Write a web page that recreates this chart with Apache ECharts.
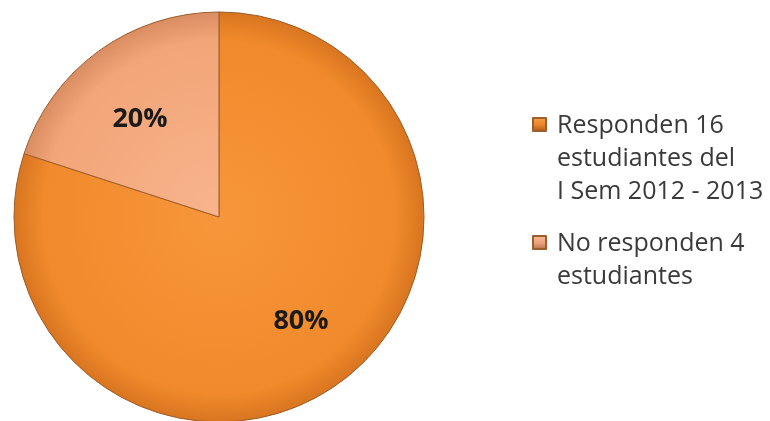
<!DOCTYPE html>
<html>
<head>
<meta charset="utf-8">
<style>
  html, body { margin: 0; padding: 0; background: #ffffff; }
  #chart { width: 770px; height: 421px; }
</style>
<script src="https://cdn.jsdelivr.net/npm/echarts@6/dist/echarts.min.js"></script>
</head>
<body>
<div id="chart"></div>
<script>
// Survey response split
const categories = [
  'Responden 16\nestudiantes del\nI Sem 2012 - 2013',
  'No responden 4\nestudiantes'
];
const counts = [16, 4];

const CX = 219, CY = 217, R = 205;
const LINE = 33;   // legend line height
const SQ = 13;     // legend square size
const SQ_TOP = 9;  // square offset inside the first text line

function shade(inner, mid, edge) {
  return new echarts.graphic.RadialGradient(CX, CY, R, [
    { offset: 0, color: inner },
    { offset: 0.86, color: mid },
    { offset: 1, color: edge }
  ], true);
}

const sliceFills = [
  shade('#F7963A', '#F08A2C', '#D8751F'),
  shade('#F8B48C', '#F2A578', '#D98D62')
];
const iconTones = [
  ['#F7A24C', '#E8842A', '#B5601B'],
  ['#F8BE9A', '#EBA07A', '#BE7852']
];

// Legend marker: a square sitting beside the first text line of a
// multi-line entry (the path box spans the whole text block height).
function markerPath(lines) {
  const h = lines * LINE;
  return 'path://M0,0 M0,' + SQ_TOP + ' h' + SQ + ' v' + SQ + ' h-' + SQ + ' Z M' + SQ + ',' + h;
}
function markerFill(lines, tones) {
  const h = lines * LINE;
  const a = SQ_TOP / h, b = (SQ_TOP + SQ) / h;
  return new echarts.graphic.LinearGradient(0, 0, 0, 1, [
    { offset: a, color: tones[0] },
    { offset: a + (b - a) * 0.6, color: tones[1] },
    { offset: b, color: tones[2] }
  ]);
}

// offset of each percentage label from its half-radius anchor
const labelShift = [[20, 19], [-17, -12]];

const maxLines = Math.max(...categories.map(n => n.split('\n').length));

const chart = echarts.init(document.getElementById('chart'), null, { renderer: 'canvas' });

chart.setOption({
  animation: false,
  backgroundColor: '#ffffff',
  legend: {
    orient: 'vertical',
    left: 527,
    top: 103,
    itemWidth: SQ,
    itemHeight: maxLines * LINE,
    itemGap: 17,
    selectedMode: false,
    data: categories.map((name, i) => {
      const lines = name.split('\n').length;
      return {
        name: name,
        icon: markerPath(lines),
        itemStyle: { color: markerFill(lines, iconTones[i]) }
      };
    }),
    textStyle: {
      fontFamily: '"Open Sans", sans-serif',
      fontSize: 25,
      lineHeight: LINE,
      color: '#3a3a3a',
      padding: [0, 0, 0, 6]
    }
  },
  series: [{
    type: 'pie',
    center: [CX, CY],
    radius: R,
    startAngle: 90,
    clockwise: true,
    label: {
      show: true,
      position: 'inner',
      formatter: '{d}%',
      fontFamily: '"Open Sans", sans-serif',
      fontWeight: 'bold',
      fontSize: 27,
      color: '#1a1a1a'
    },
    labelLayout: function (p) {
      const s = labelShift[p.dataIndex];
      return { dx: s[0], dy: s[1] };
    },
    labelLine: { show: false },
    emphasis: { disabled: true },
    itemStyle: { borderColor: '#9C5E2C', borderWidth: 1 },
    data: categories.map((name, i) => ({
      name: name,
      value: counts[i],
      itemStyle: { color: sliceFills[i] }
    }))
  }]
});
</script>
</body>
</html>
